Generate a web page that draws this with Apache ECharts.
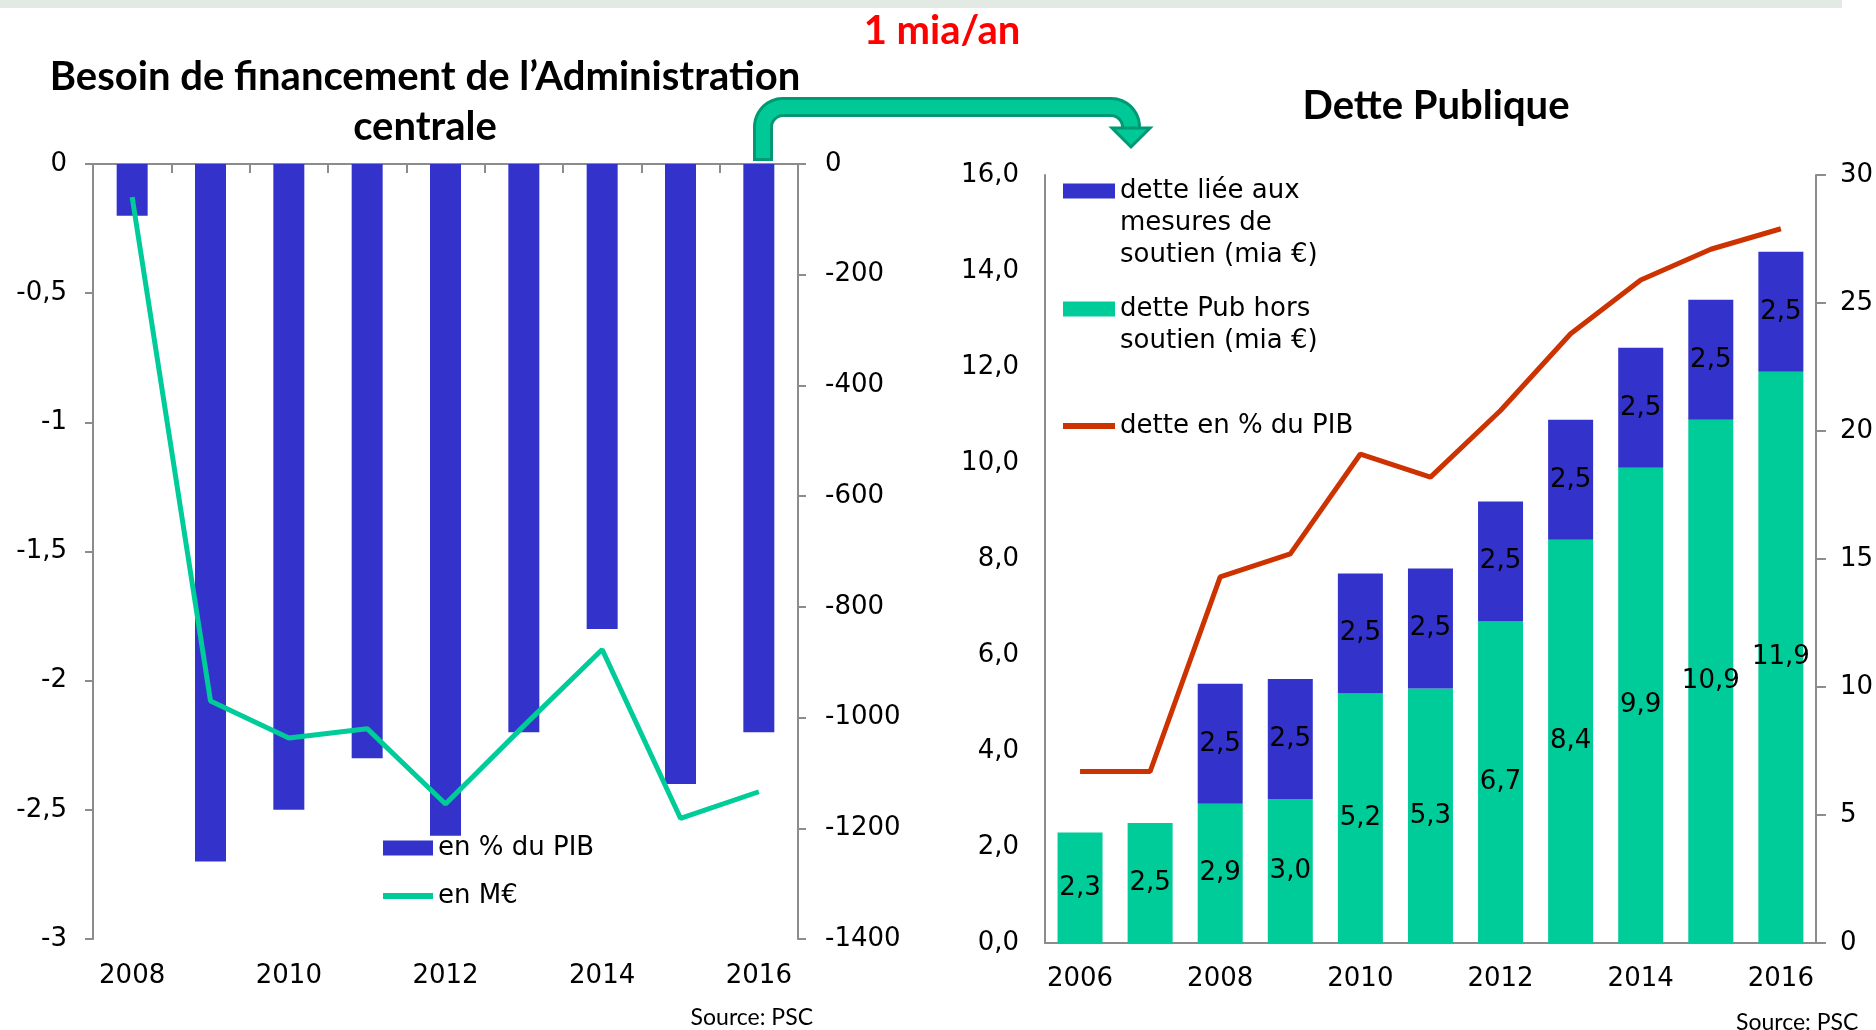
<!DOCTYPE html>
<html>
<head>
<meta charset="utf-8">
<script src="https://cdn.jsdelivr.net/npm/echarts@6/dist/echarts.min.js"></script>
<style>
  html, body { margin: 0; padding: 0; background: #fff; }
  #chart { width: 1876px; height: 1030px; }
</style>
</head>
<body>
<div id="chart"></div>
<script>
// besoin de financement de l'administration centrale
var yearsBesoin = ['2008', '2009', '2010', '2011', '2012', '2013', '2014', '2015', '2016'];
var besoinPib = [-0.2, -2.7, -2.5, -2.3, -2.6, -2.2, -1.8, -2.4, -2.2];
var besoinMeur = [-60, -970, -1037, -1020, -1156, -1015, -877, -1182, -1134];

// dette publique
var yearsDette = ['2006', '2007', '2008', '2009', '2010', '2011', '2012', '2013', '2014', '2015', '2016'];
var detteHorsSoutien = [2.3, 2.5, 2.9, 3.0, 5.2, 5.3, 6.7, 8.4, 9.9, 10.9, 11.9];
var detteSoutien = [null, null, 2.5, 2.5, 2.5, 2.5, 2.5, 2.5, 2.5, 2.5, 2.5];
var dettePib = [6.7, 6.7, 14.3, 15.2, 19.1, 18.2, 20.8, 23.8, 25.9, 27.1, 27.9];

var BLUE = '#3333cc', GREEN = '#00cc99', RED = '#cc3300', AXIS = '#8c8c8c';
var FONT = 'DejaVu Sans';

function comma(v, d) {
  if (v === 0 && d === undefined) return '0';
  var s = d === undefined ? String(v) : v.toFixed(d);
  return s.replace('.', ',');
}

// bent arrow "1 mia/an" (decoration)
function arc(cx, cy, r, a0, a1) {
  var pts = [];
  for (var i = 0; i <= 12; i++) {
    var a = (a0 + (a1 - a0) * i / 12) * Math.PI / 180;
    pts.push([cx + r * Math.cos(a), cy + r * Math.sin(a)]);
  }
  return pts;
}
function arrowPath(yStart) {
  return [[763, yStart]]
    .concat(arc(783, 127, 20, 180, 270))
    .concat(arc(1111, 127, 20, 270, 360))
    .concat([[1131, 131]]);
}

var txt = { color: '#000', fontFamily: FONT, fontSize: 26 };
var legendTxt = { color: '#000', fontFamily: FONT, fontSize: 26, lineHeight: 32 };
var axisLine = { show: true, lineStyle: { color: AXIS, width: 2 } };

var myChart = echarts.init(document.getElementById('chart'));
myChart.setOption({
  animation: false,
  textStyle: { fontFamily: FONT },
  grid: [
    { left: 93, top: 164, width: 705, height: 775 },
    { left: 1045, top: 175, width: 772, height: 768 }
  ],
  legend: [
    { data: [{ name: 'en % du PIB', icon: 'rect' }], left: 383, top: 832, padding: 0,
      itemWidth: 50, itemHeight: 15, selectedMode: false, textStyle: legendTxt },
    { data: [{ name: 'en M€', icon: 'rect' }], left: 383, top: 880, padding: 0,
      itemWidth: 50, itemHeight: 6, selectedMode: false, textStyle: legendTxt },
    // leading blank lines keep the first text line level with the icon
    { data: [{ name: 'dette liée aux mesures de soutien (mia €)', icon: 'rect' }],
      left: 1063, top: 111, padding: 0, itemWidth: 52, itemHeight: 15, selectedMode: false,
      formatter: function () { return ' \n \ndette liée aux\nmesures de\nsoutien (mia €)'; },
      textStyle: legendTxt },
    { data: [{ name: 'dette Pub hors soutien (mia €)', icon: 'rect' }],
      left: 1063, top: 261, padding: 0, itemWidth: 52, itemHeight: 15, selectedMode: false,
      formatter: function () { return ' \ndette Pub hors\nsoutien (mia €)'; },
      textStyle: legendTxt },
    { data: [{ name: 'dette en % du PIB', icon: 'rect' }],
      left: 1063, top: 410, padding: 0, itemWidth: 52, itemHeight: 6, selectedMode: false,
      textStyle: legendTxt }
  ],
  xAxis: [
    // left chart: axis line at 0 (top) with ticks, labels at the bottom
    { gridIndex: 0, type: 'category', data: yearsBesoin, position: 'top',
      axisLine: axisLine,
      axisTick: { show: true, inside: true, length: 9, interval: 0, lineStyle: { color: AXIS, width: 2 } },
      axisLabel: { show: false } },
    { gridIndex: 0, type: 'category', data: yearsBesoin, position: 'bottom',
      axisLine: { show: false }, axisTick: { show: false },
      axisLabel: Object.assign({ interval: 1, margin: 24 }, txt) },
    { gridIndex: 1, type: 'category', data: yearsDette, position: 'bottom',
      axisLine: axisLine, axisTick: { show: false },
      axisLabel: Object.assign({ interval: 1, margin: 23 }, txt) }
  ],
  yAxis: [
    { gridIndex: 0, type: 'value', min: -3, max: 0, interval: 0.5, position: 'left',
      axisLine: axisLine,
      axisTick: { show: true, length: 8, lineStyle: { color: AXIS, width: 2 } },
      splitLine: { show: false },
      axisLabel: Object.assign({ margin: 26, formatter: function (v) { return comma(v); } }, txt) },
    { gridIndex: 0, type: 'value', min: -1400, max: 0, interval: 200, position: 'right',
      axisLine: axisLine,
      axisTick: { show: true, length: 8, lineStyle: { color: AXIS, width: 2 } },
      splitLine: { show: false },
      axisLabel: Object.assign({ margin: 27, formatter: function (v) { return String(v); } }, txt) },
    { gridIndex: 1, type: 'value', min: 0, max: 16, interval: 2, position: 'left',
      axisLine: axisLine, axisTick: { show: false }, splitLine: { show: false },
      axisLabel: Object.assign({ margin: 26, formatter: function (v) { return comma(v, 1); } }, txt) },
    { gridIndex: 1, type: 'value', min: 0, max: 30, interval: 5, position: 'right',
      axisLine: axisLine,
      axisTick: { show: true, length: 10, lineStyle: { color: AXIS, width: 2 } },
      splitLine: { show: false },
      axisLabel: Object.assign({ margin: 24 }, txt) }
  ],
  series: [
    { name: 'en % du PIB', type: 'bar', xAxisIndex: 0, yAxisIndex: 0,
      data: besoinPib, barWidth: 31, itemStyle: { color: BLUE } },
    { name: 'en M€', type: 'line', xAxisIndex: 0, yAxisIndex: 1,
      data: besoinMeur, symbol: 'none', z: 5,
      itemStyle: { color: GREEN }, lineStyle: { color: GREEN, width: 5 } },
    { name: 'dette Pub hors soutien (mia €)', type: 'bar', xAxisIndex: 2, yAxisIndex: 2,
      stack: 'dette', data: detteHorsSoutien, barWidth: 45, itemStyle: { color: GREEN },
      label: Object.assign({ show: true, position: 'inside',
        formatter: function (p) { return comma(p.value, 1); } }, txt) },
    { name: 'dette liée aux mesures de soutien (mia €)', type: 'bar', xAxisIndex: 2, yAxisIndex: 2,
      stack: 'dette', data: detteSoutien, barWidth: 45, itemStyle: { color: BLUE },
      label: Object.assign({ show: true, position: 'inside',
        formatter: function (p) { return comma(p.value, 1); } }, txt) },
    { name: 'dette en % du PIB', type: 'line', xAxisIndex: 2, yAxisIndex: 3,
      data: dettePib, symbol: 'none', z: 5,
      itemStyle: { color: RED }, lineStyle: { color: RED, width: 5 } }
  ],
  graphic: [
    { type: 'rect', shape: { x: 0, y: 0, width: 1842, height: 8 }, style: { fill: '#e3e9e3' }, silent: true },
    { type: 'text', style: { text: 'Besoin de financement de l’Administration', x: 425, y: 77,
        textAlign: 'center', textVerticalAlign: 'middle', font: 'bold 40px Lato', fill: '#000' } },
    { type: 'text', style: { text: 'centrale', x: 425, y: 127,
        textAlign: 'center', textVerticalAlign: 'middle', font: 'bold 40px Lato', fill: '#000' } },
    { type: 'text', style: { text: 'Dette Publique', x: 1436, y: 106,
        textAlign: 'center', textVerticalAlign: 'middle', font: 'bold 40px Lato', fill: '#000' } },
    { type: 'text', style: { text: '1 mia/an', x: 942, y: 31,
        textAlign: 'center', textVerticalAlign: 'middle', font: 'bold 40px Lato', fill: '#ff0000' } },
    { type: 'text', style: { text: 'Source: PSC', x: 813, y: 1018,
        textAlign: 'right', textVerticalAlign: 'middle', font: '23px Lato', fill: '#000' } },
    { type: 'text', style: { text: 'Source: PSC', x: 1736, y: 1023,
        textAlign: 'left', textVerticalAlign: 'middle', font: '23px Lato', fill: '#000' } },
    { type: 'polyline', shape: { points: arrowPath(161) }, z: 100,
      style: { stroke: '#009973', lineWidth: 20, fill: null, lineJoin: 'round' } },
    { type: 'polyline', shape: { points: arrowPath(158) }, z: 101,
      style: { stroke: '#00c896', lineWidth: 14, fill: null, lineJoin: 'round' } },
    { type: 'polygon', shape: { points: [[1112, 128], [1150, 128], [1131, 147]] }, z: 102,
      style: { fill: '#00c896', stroke: '#009973', lineWidth: 3 } }
  ]
});
</script>
</body>
</html>
